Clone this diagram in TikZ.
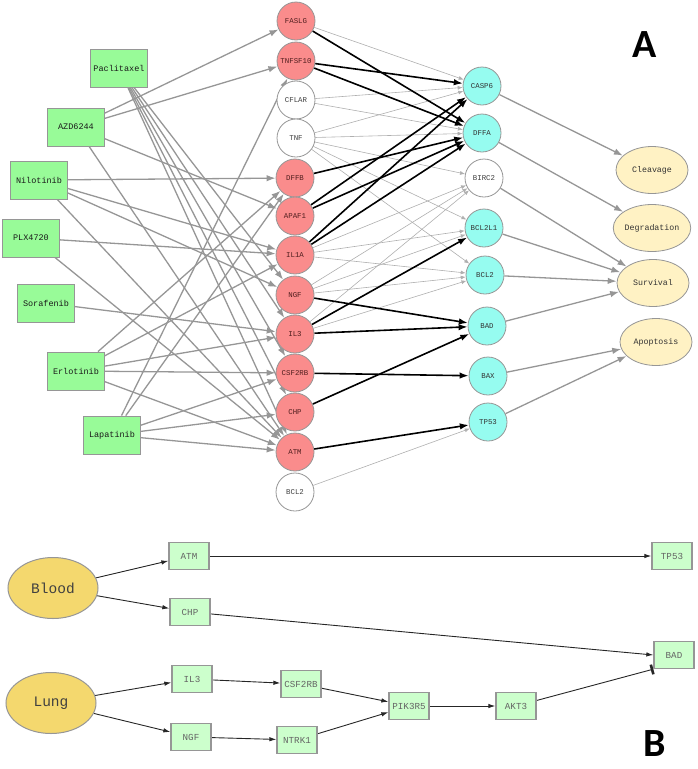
\documentclass[tikz,border=0pt]{standalone}
\usepackage{fontspec}
\setmainfont{Liberation Mono}
\newfontfamily\panelfont{Carlito}
\usetikzlibrary{arrows.meta,shapes.geometric,backgrounds}
\definecolor{drugfill}{RGB}{152,251,152}
\definecolor{redfill}{RGB}{250,140,140}
\definecolor{cyanfill}{RGB}{150,252,240}
\definecolor{ellfill}{RGB}{255,242,196}
\definecolor{bboxfill}{RGB}{204,255,204}
\definecolor{goldfill}{RGB}{244,216,110}
\definecolor{bordgray}{RGB}{150,150,150}
\definecolor{edgegray}{RGB}{150,150,150}
\definecolor{thingray}{RGB}{175,175,175}
\definecolor{redtext}{RGB}{80,30,30}
\definecolor{btext}{RGB}{100,100,100}
\tikzset{
  drug/.style={draw=bordgray, line width=0.8pt, fill=drugfill, minimum width=57pt, minimum height=38pt, inner sep=0pt, text=black!90, font=\fontsize{8.5}{9}\selectfont},
  genebase/.style={circle, draw=bordgray, line width=0.8pt, minimum size=38pt, inner sep=0pt, font=\fontsize{7.4}{8}\selectfont},
  redgene/.style={genebase, fill=redfill, text=redtext},
  whitegene/.style={genebase, fill=white, text=black!75},
  cyangene/.style={genebase, fill=cyanfill, text=black!80},
  effect/.style={ellipse, draw=bordgray, line width=0.8pt, fill=ellfill, minimum width=72pt, minimum height=47pt, inner sep=0pt, text=black!80, font=\fontsize{8.3}{9}\selectfont},
  bbox/.style={draw=bordgray, line width=1.3pt, fill=bboxfill, minimum width=40pt, minimum height=27pt, inner sep=0pt, text=btext, font=\fontsize{9.2}{10}\selectfont},
  tissue/.style={ellipse, draw=bordgray, line width=1pt, fill=goldfill, minimum width=90pt, minimum height=61pt, inner sep=0pt, text=black!75, font=\fontsize{14.5}{15}\selectfont},
  panel/.style={font=\panelfont\bfseries\fontsize{40}{40}\selectfont},
  dg/.style={draw=edgegray, line width=1.3pt, -{Latex[length=9pt,width=6.5pt]}},
  thinedge/.style={draw=thingray, line width=0.6pt, -{Latex[length=5pt,width=4pt]}},
  blk/.style={draw=black, line width=1.6pt, -{Latex[length=9pt,width=6.5pt]}},
  toell/.style={draw=edgegray, line width=1.3pt, -{Latex[length=9pt,width=6.5pt]}},
  bedge/.style={draw=black!85, line width=0.9pt, -{Latex[length=7pt,width=4.5pt]}},
  bbar/.style={draw=black!85, line width=0.9pt, -{Bar[width=10pt,line width=2.6pt]}}
}
\begin{document}
\begin{tikzpicture}[x=1pt,y=-1pt]
\useasboundingbox (0,0) rectangle (697,769);
% drugs
\node[drug] (Paclitaxel) at (119,68) {Paclitaxel};
\node[drug] (AZD) at (76,127) {AZD6244};
\node[drug] (Nilotinib) at (39,180) {Nilotinib};
\node[drug] (PLX) at (31,238) {PLX4720};
\node[drug] (Sorafenib) at (46,303) {Sorafenib};
\node[drug] (Erlotinib) at (76,371) {Erlotinib};
\node[drug] (Lapatinib) at (112,435) {Lapatinib};
% middle genes
\node[redgene] (FASLG) at (296,21) {FASLG};
\node[redgene] (TNFSF10) at (296,61) {TNFSF10};
\node[whitegene] (CFLAR) at (296,100) {CFLAR};
\node[whitegene] (TNF) at (296,138) {TNF};
\node[redgene] (DFFB) at (295,178) {DFFB};
\node[redgene] (APAF1) at (295,216) {APAF1};
\node[redgene] (IL1A) at (295,255) {IL1A};
\node[redgene] (NGF) at (295,295) {NGF};
\node[redgene] (IL3) at (295,334) {IL3};
\node[redgene] (CSF2RB) at (295,373) {CSF2RB};
\node[redgene] (CHP) at (295,412) {CHP};
\node[redgene] (ATM) at (295,452) {ATM};
\node[whitegene] (gBCL2) at (295,492) {BCL2};
% right genes
\node[cyangene] (CASP6) at (482,86) {CASP6};
\node[cyangene] (DFFA) at (482,133) {DFFA};
\node[whitegene] (BIRC2) at (484,178) {BIRC2};
\node[cyangene] (BCL2L1) at (484,228) {BCL2L1};
\node[cyangene] (tBCL2) at (485,275) {BCL2};
\node[cyangene] (BAD) at (487,326) {BAD};
\node[cyangene] (BAX) at (488,376) {BAX};
\node[cyangene] (TP53) at (488,422) {TP53};
% effects
\node[effect] (Cleavage) at (652,170) {Cleavage};
\node[effect] (Degradation) at (652,228) {Degradation};
\node[effect] (Survival) at (653,283) {Survival};
\node[effect] (Apoptosis) at (656,342) {Apoptosis};
\node[panel] (labA) at (645,45) {A};
% part B
\node[tissue] (Blood) at (53,588) {Blood};
\node[tissue] (Lung) at (51,703) {Lung};
\node[bbox] (bATM) at (189,556) {ATM};
\node[bbox] (bCHP) at (190,612) {CHP};
\node[bbox] (bIL3) at (192,679) {IL3};
\node[bbox] (bNGF) at (191,737) {NGF};
\node[bbox] (bCSF2RB) at (301,684) {CSF2RB};
\node[bbox] (bNTRK1) at (297,740) {NTRK1};
\node[bbox] (bPIK3R5) at (409,706) {PIK3R5};
\node[bbox] (bAKT3) at (516,706) {AKT3};
\node[bbox] (bTP53) at (672,556) {TP53};
\node[bbox] (bBAD) at (674,655) {BAD};
\node[panel] (labB) at (655,744) {B};
\begin{scope}[on background layer]
% drug -> gene
\foreach \t in {NGF,IL3,CSF2RB,CHP,ATM} \draw[dg] (Paclitaxel) -- (\t);
\foreach \t in {FASLG,TNFSF10,APAF1,ATM} \draw[dg] (AZD) -- (\t);
\foreach \t in {DFFB,IL1A,NGF,ATM} \draw[dg] (Nilotinib) -- (\t);
\foreach \t in {IL1A,ATM} \draw[dg] (PLX) -- (\t);
\foreach \t in {IL3} \draw[dg] (Sorafenib) -- (\t);
\foreach \t in {DFFB,IL1A,IL3,CSF2RB,ATM} \draw[dg] (Erlotinib) -- (\t);
\foreach \t in {TNFSF10,DFFB,CSF2RB,CHP,ATM} \draw[dg] (Lapatinib) -- (\t);
% gene -> target (thin)
\draw[thinedge] (FASLG) -- (CASP6);
\draw[thinedge] (CFLAR) -- (CASP6);
\draw[thinedge] (CFLAR) -- (DFFA);
\foreach \t in {CASP6,DFFA,BIRC2,BCL2L1,tBCL2} \draw[thinedge] (TNF) -- (\t);
\foreach \t in {BIRC2,BCL2L1,tBCL2} \draw[thinedge] (IL1A) -- (\t);
\foreach \t in {BIRC2,BCL2L1,tBCL2} \draw[thinedge] (NGF) -- (\t);
\foreach \t in {BIRC2,tBCL2} \draw[thinedge] (IL3) -- (\t);
\draw[thinedge] (gBCL2) -- (TP53);
% gene -> target (black)
\draw[blk] (FASLG) -- (DFFA);
\draw[blk] (TNFSF10) -- (CASP6);
\draw[blk] (TNFSF10) -- (DFFA);
\draw[blk] (DFFB) -- (DFFA);
\draw[blk] (APAF1) -- (CASP6);
\draw[blk] (APAF1) -- (DFFA);
\draw[blk] (IL1A) -- (CASP6);
\draw[blk] (IL1A) -- (DFFA);
\draw[blk] (IL3) -- (BCL2L1);
\draw[blk] (NGF) -- (BAD);
\draw[blk] (IL3) -- (BAD);
\draw[blk] (CSF2RB) -- (BAX);
\draw[blk] (CHP) -- (BAD);
\draw[blk] (ATM) -- (TP53);
% target -> effect
\draw[toell] (CASP6) -- (Cleavage);
\draw[toell] (DFFA) -- (Degradation);
\foreach \s in {BIRC2,BCL2L1,tBCL2,BAD} \draw[toell] (\s) -- (Survival);
\draw[toell] (BAX) -- (Apoptosis);
\draw[toell] (TP53) -- (Apoptosis);
% part B edges
\draw[bedge] (Blood) -- (bATM);
\draw[bedge] (Blood) -- (bCHP);
\draw[bedge] (Lung) -- (bIL3);
\draw[bedge] (Lung) -- (bNGF);
\draw[bedge] (bATM) -- (bTP53);
\draw[bedge] (bCHP) -- (bBAD.west);
\draw[bedge] (bIL3) -- (bCSF2RB);
\draw[bedge] (bNGF) -- (bNTRK1);
\draw[bedge] (bCSF2RB) -- (bPIK3R5);
\draw[bedge] (bNTRK1) -- (bPIK3R5);
\draw[bedge] (bPIK3R5) -- (bAKT3);
\draw[bbar] (bAKT3) -- (bBAD.south west);
\end{scope}
\end{tikzpicture}
\end{document}
